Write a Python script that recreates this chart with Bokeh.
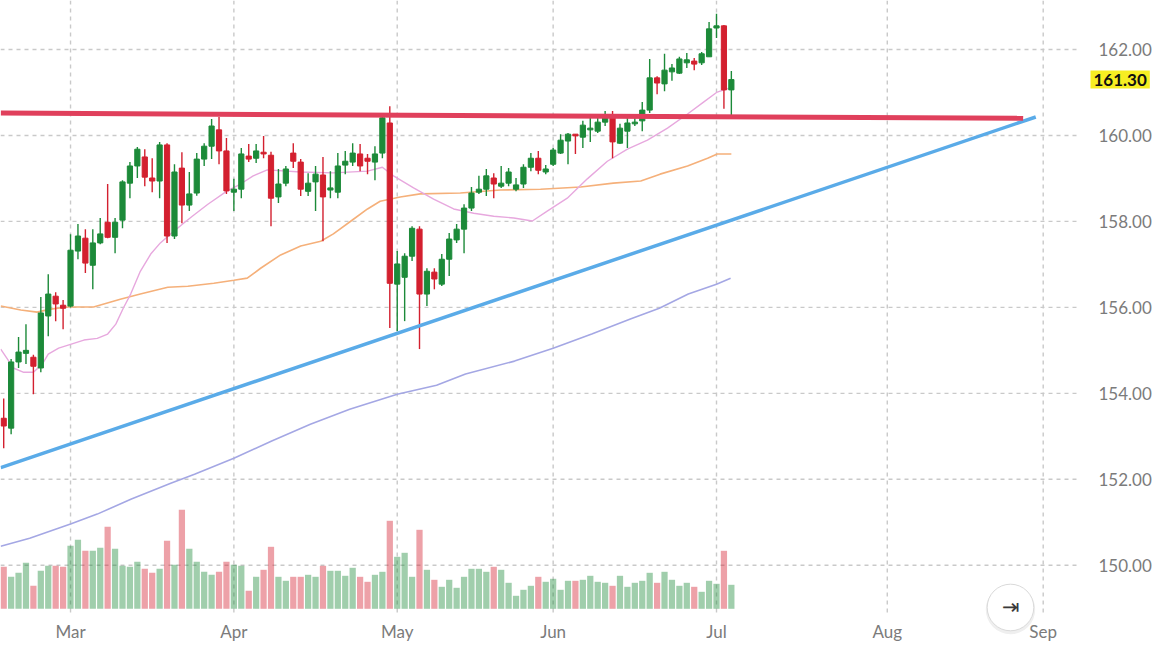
import pandas as pd
from bokeh.plotting import figure
from bokeh.models import Range1d, FixedTicker, LinearAxis, NumeralTickFormatter, ColumnDataSource, Grid
from bokeh.core.properties import value
from bokeh.embed import file_html
from bokeh.resources import INLINE

# ---------------- data ----------------
start_date = "2026-02-17"
calendar_end = "2026-09-30"

opens = [153.42, 153.19, 154.73, 154.93, 154.84, 154.59, 155.80, 156.26, 156.05, 156.03,
         157.31, 157.61, 156.98, 157.50, 157.98, 157.63, 158.03, 158.89, 159.29, 159.50,
         159.01, 158.94, 159.78, 157.66, 159.24, 158.38, 158.66, 159.45, 159.75, 160.13,
         159.64, 158.68, 158.75, 159.52, 159.47, 159.61, 159.54, 158.57, 158.89, 159.59,
         159.38, 158.70, 158.92, 159.08, 158.73, 158.68, 159.31, 159.38, 159.57, 159.47,
         159.38, 159.59, 160.29, 156.54, 156.70, 157.19, 157.82, 156.31, 156.82, 156.54,
         157.12, 157.57, 157.82, 158.31, 158.68, 158.75, 159.01, 158.82, 158.89, 158.75,
         158.87, 159.26, 159.47, 159.15, 159.33, 159.59, 159.87, 160.03, 159.96, 160.13,
         160.10, 160.31, 160.43, 159.82, 160.10, 160.27, 160.34, 160.59, 161.34, 161.20,
         161.48, 161.45, 161.69, 161.73, 161.69, 161.83, 162.50, 162.55, 161.06]
highs = [153.88, 154.80, 155.31, 155.61, 154.90, 156.24, 156.77, 156.35, 156.17, 157.70,
         157.94, 157.82, 157.82, 158.08, 158.87, 158.08, 158.96, 159.38, 159.73, 159.68,
         159.47, 159.85, 159.82, 159.33, 159.61, 159.15, 159.59, 159.82, 160.38, 160.43,
         159.94, 158.99, 159.71, 159.80, 159.80, 159.99, 159.62, 159.22, 159.29, 159.82,
         159.45, 159.12, 159.29, 159.50, 159.17, 159.59, 159.64, 159.82, 159.80, 159.57,
         159.75, 160.50, 160.68, 157.31, 157.26, 157.89, 157.89, 156.91, 156.91, 157.24,
         157.73, 157.94, 158.40, 158.80, 159.06, 159.22, 159.12, 159.29, 159.24, 159.01,
         159.33, 159.59, 159.64, 159.31, 159.71, 160.03, 160.06, 160.03, 160.34, 160.41,
         160.41, 160.57, 160.57, 160.27, 160.43, 160.50, 160.78, 161.78, 161.38, 161.90,
         161.66, 161.83, 161.92, 161.80, 161.94, 162.64, 162.83, 162.57, 161.50]
lows = [152.72, 153.05, 154.59, 154.68, 153.98, 154.49, 155.33, 155.68, 155.49, 156.00,
        157.12, 156.80, 156.42, 157.47, 157.61, 157.26, 157.84, 158.54, 159.01, 158.82,
        158.68, 158.54, 157.50, 157.59, 157.96, 158.24, 158.60, 159.29, 159.45, 159.33,
        158.64, 158.24, 158.54, 159.38, 159.36, 159.47, 157.89, 158.43, 158.82, 159.24,
        158.59, 158.59, 158.24, 157.54, 158.54, 158.54, 159.10, 159.29, 159.17, 159.10,
        158.96, 159.47, 155.52, 155.45, 155.68, 157.08, 155.03, 156.03, 156.42, 156.50,
        156.73, 157.50, 157.26, 158.24, 158.64, 158.59, 158.54, 158.78, 158.82, 158.70,
        158.78, 159.17, 159.10, 159.10, 159.29, 159.57, 159.33, 159.57, 159.71, 159.85,
        160.06, 160.22, 159.47, 159.80, 159.71, 160.22, 160.10, 160.52, 160.96, 161.03,
        161.27, 161.43, 161.57, 161.52, 161.64, 161.83, 162.27, 160.62, 160.43]
closes = [153.24, 154.73, 154.96, 155.00, 154.63, 155.87, 156.31, 156.08, 155.98, 157.33,
          157.66, 157.03, 157.50, 157.71, 157.63, 157.98, 158.92, 159.29, 159.68, 159.03,
          158.94, 159.78, 157.66, 159.15, 158.38, 158.64, 159.45, 159.75, 160.22, 159.64,
          158.71, 158.75, 159.57, 159.45, 159.64, 159.57, 158.54, 158.87, 159.22, 159.40,
          158.75, 158.89, 159.10, 158.57, 158.78, 159.29, 159.40, 159.59, 159.29, 159.40,
          159.57, 160.41, 156.56, 157.01, 157.19, 157.84, 156.31, 156.84, 156.66, 157.12,
          157.59, 157.82, 158.31, 158.66, 158.75, 159.06, 158.87, 158.89, 159.15, 158.85,
          159.26, 159.47, 159.19, 159.22, 159.66, 159.89, 160.03, 159.99, 160.24, 160.17,
          160.31, 160.41, 159.85, 160.17, 160.29, 160.31, 160.59, 161.34, 161.22, 161.52,
          161.57, 161.78, 161.76, 161.66, 161.90, 162.48, 162.55, 161.06, 161.30]
volumes = [42, 32, 36, 46, 23, 38, 43, 43, 42, 63,
           69, 58, 58, 61, 82, 60, 43, 42, 47, 40,
           36, 40, 68, 44, 99, 60, 47, 37, 34, 37,
           47, 44, 43, 18, 32, 39, 62, 32, 28, 32,
           32, 34, 32, 43, 38, 38, 33, 41, 32, 27,
           34, 37, 88, 52, 56, 32, 79, 39, 29, 22,
           29, 21, 32, 40, 40, 37, 42, 39, 26, 13,
           19, 23, 32, 27, 30, 19, 28, 28, 29, 33,
           27, 26, 23, 33, 22, 26, 28, 36, 26, 37,
           29, 23, 26, 22, 17, 28, 25, 58, 24]

# moving averages (bar index, value)
ma20_pos = [-0.4, 1.3, 2.7, 4.0, 5.2, 6.0, 7.4, 9.0, 10.8, 12.6, 14.0, 15.1, 16.1, 17.1, 18.4,
            19.8, 21.1, 22.5, 24.1, 25.4, 27.5, 30.1, 31.9, 33.6, 35.5, 40.0, 44.4, 49.0, 51.0,
            52.5, 55.2, 57.9, 60.6, 63.3, 66.0, 68.7, 71.2, 73.2, 75.9, 78.6, 81.3, 84.0, 86.7,
            89.4, 92.1, 94.3, 96.1, 98.0]
ma20_val = [155.03, 154.59, 154.49, 154.49, 154.68, 154.91, 155.05, 155.14, 155.24, 155.28,
            155.38, 155.61, 155.98, 156.31, 156.84, 157.24, 157.50, 157.71, 157.94, 158.12,
            158.40, 158.71, 158.87, 159.06, 159.20, 159.15, 159.13, 159.17, 159.26, 159.06,
            158.78, 158.52, 158.29, 158.19, 158.12, 158.08, 158.01, 158.24, 158.54, 158.99,
            159.40, 159.68, 159.89, 160.17, 160.50, 160.78, 161.01, 161.12]
ma50_pos = [-0.4, 2.3, 4.5, 6.3, 8.6, 12.1, 15.7, 18.4, 22.1, 24.8, 28.3, 31.0, 32.8, 34.6,
            37.3, 40.0, 42.7, 44.4, 47.1, 49.0, 50.7, 53.4, 56.1, 61.5, 66.9, 72.3, 77.7, 82.1,
            85.8, 88.4, 92.1, 94.8, 96.1, 98.0]
ma50_val = [156.03, 155.94, 155.89, 155.96, 156.01, 156.01, 156.19, 156.31, 156.47, 156.49,
            156.56, 156.63, 156.68, 156.91, 157.22, 157.43, 157.54, 157.71, 158.05, 158.29,
            158.47, 158.57, 158.64, 158.66, 158.73, 158.75, 158.80, 158.89, 158.94, 159.10,
            159.29, 159.47, 159.57, 159.57]
ma200_pos = [-0.4, 3.5, 9.0, 12.6, 17.2, 22.5, 25.7, 31.0, 36.1, 41.3, 46.6, 53.0, 58.3, 62.2,
             68.8, 74.0, 79.2, 84.4, 88.3, 92.2, 96.0, 97.9]
ma200_val = [150.44, 150.63, 150.96, 151.19, 151.54, 151.91, 152.12, 152.49, 152.89, 153.28,
             153.63, 153.98, 154.19, 154.45, 154.75, 155.05, 155.38, 155.73, 155.98, 156.31,
             156.54, 156.68]

# drawn trend lines (bar index, price)
resistance_pos = [-0.4, 137.3]
resistance_val = [160.52, 160.40]
support_pos = [-0.4, 139.0]
support_val = [152.27, 160.43]

y_ticks = [150, 152, 154, 156, 158, 160, 162]

# ---------------- derived ----------------
n = len(closes)
idx = list(range(n))
GREEN = "#1c8a39"
RED = "#d3202f"
colors = [GREEN if c >= o else RED for o, c in zip(opens, closes)]

src = ColumnDataSource(dict(
    idx=idx, high=highs, low=lows, volume=volumes,
    top=[max(o, c) for o, c in zip(opens, closes)],
    bottom=[min(o, c) for o, c in zip(opens, closes)],
    color=colors,
))

# business-day calendar -> month ticks on an ordinal (trading-day) axis
cal = pd.bdate_range(start_date, calendar_end)
tick_pos, tick_lab = [], []
for i in range(1, len(cal)):
    if cal[i].month != cal[i - 1].month:
        tick_pos.append(i)
        tick_lab.append(cal[i].strftime("%b"))

# ---------------- figure ----------------
FONT = "Lato"
X0, X1 = -0.431, 154.72          # visible bar-index window
Y0, Y1 = 148.133, 163.140        # visible price window
AXIS_X = 145.02                  # where the price scale sits
AXIS_Y = 148.901                 # where the time scale sits

p = figure(width=1152, height=645, output_backend="svg", toolbar_location=None,
           title=None, x_axis_location=None, y_axis_location=None,
           x_range=Range1d(X0, X1), y_range=Range1d(Y0, Y1), min_border=0)
p.outline_line_color = None
p.background_fill_color = "white"
p.border_fill_color = "white"
for r in list(p.center):
    if isinstance(r, Grid):
        r.visible = False
p.extra_y_ranges = {"vol": Range1d(-36.7, 608.3)}

xaxis = LinearAxis(ticker=FixedTicker(ticks=tick_pos), fixed_location=AXIS_Y,
                   major_label_overrides={t: l for t, l in zip(tick_pos, tick_lab)})
yaxis = LinearAxis(ticker=FixedTicker(ticks=y_ticks), fixed_location=AXIS_X,
                   formatter=NumeralTickFormatter(format="0.00"))
for ax in (xaxis, yaxis):
    ax.axis_line_color = None
    ax.major_tick_line_color = None
    ax.minor_tick_line_color = None
    ax.major_label_text_font = FONT
    ax.major_label_text_font_size = "17px"
    ax.major_label_text_color = "#7b7b7b"
xaxis.major_label_standoff = 3
yaxis.major_label_standoff = 12
p.add_layout(xaxis, "below")
p.add_layout(yaxis, "right")

# dashed grid at the axis ticks
GRID = dict(line_color="#c9c9c9", line_dash="4 4", line_width=1.4)
p.segment(x0=[X0] * len(y_ticks), y0=y_ticks, x1=[AXIS_X] * len(y_ticks), y1=y_ticks, **GRID)
p.segment(x0=tick_pos, y0=[AXIS_Y] * len(tick_pos), x1=tick_pos, y1=[Y1] * len(tick_pos), **GRID)

# volume
p.vbar(x="idx", top="volume", bottom=0, width=0.84, source=src, y_range_name="vol",
       fill_color="color", fill_alpha=0.42, line_color=None)

# moving averages
p.line(ma200_pos, ma200_val, line_color="#a4a7e4", line_width=1.6)
p.line(ma50_pos, ma50_val, line_color="#f5b07a", line_width=1.6)
p.line(ma20_pos, ma20_val, line_color="#e7a8de", line_width=1.4)

# candles
p.segment(x0="idx", y0="high", x1="idx", y1="low", source=src, line_color="color", line_width=1.4)
p.vbar(x="idx", top="top", bottom="bottom", width=0.7, source=src,
       fill_color="color", line_color="color", line_width=1)

# trend lines
p.line(support_pos, support_val, line_color="#5aabe8", line_width=3.5, line_cap="butt")
p.line(resistance_pos, resistance_val, line_color="#e0405c", line_width=5, line_cap="butt")

# last price tag on the price scale
p.text(x=[AXIS_X], y=[closes[-1]], text=[f"{closes[-1]:.2f}"], x_offset=10,
       text_font=value(FONT), text_font_style="bold", text_font_size="17px",
       text_color="#111111", text_align="left", text_baseline="middle",
       background_fill_color="#f7ee22", padding=3)

# scroll-to-end button (soft shadow + face)
p.text(x=[AXIS_X], y=[AXIS_Y], text=["\u21e5"], x_offset=-70, y_offset=-3,
       text_font=value("DejaVu Sans"), text_font_size="21px", text_color="#eeeeee",
       text_align="center", text_baseline="middle",
       background_fill_color="#efefef", border_line_color=None,
       outline_shape="circle", padding=7)
p.text(x=[AXIS_X], y=[AXIS_Y], text=["\u21e5"], x_offset=-70, y_offset=-5,
       text_font=value("DejaVu Sans"), text_font_size="21px", text_color="#3a3a3a",
       text_align="center", text_baseline="middle",
       background_fill_color="white", border_line_color="#dadada", border_line_width=1,
       outline_shape="circle", padding=6)

open("out.html", "w").write(file_html(p, INLINE))
